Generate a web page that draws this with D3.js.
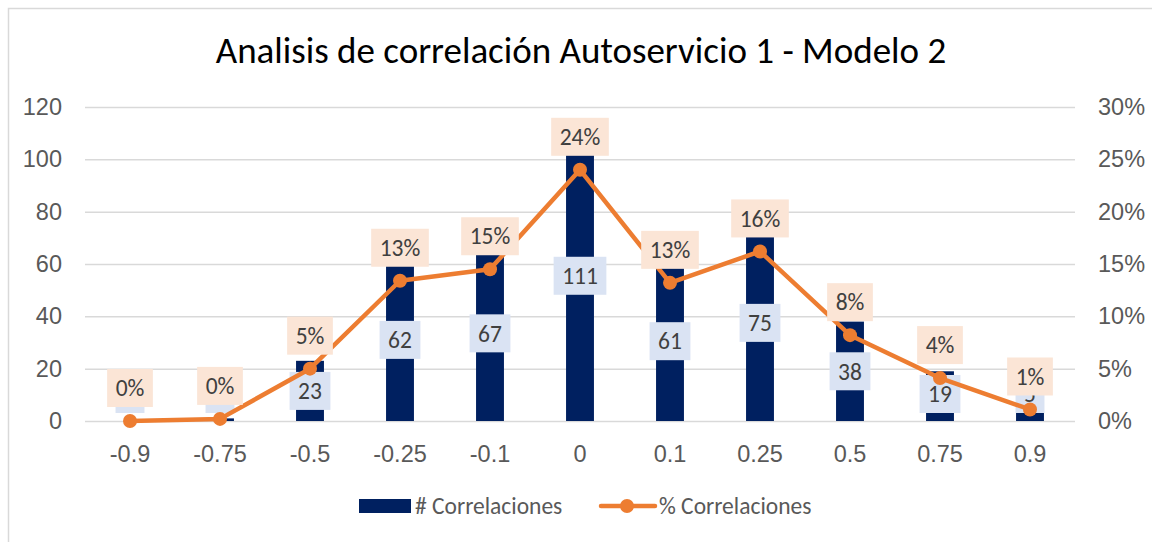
<!DOCTYPE html>
<html>
<head>
<meta charset="utf-8">
<script src="https://cdn.jsdelivr.net/npm/d3@7"></script>
<style>
  html, body {
    margin: 0;
    padding: 0;
    background: #fff;
  }
  svg {
    display: block;
    font-family: Calibri, Carlito, 'Open Sans', sans-serif;
  }
  .grid line {
    stroke: #d9d9d9;
    stroke-width: 1.5;
  }
  .grid .domain {
    display: none;
  }
  .axis text {
    fill: #595959;
    font-size: 23.5px;
  }
  .axis .domain,
  .axis line {
    display: none;
  }
</style>
</head>
<body>
<div id="chart"></div>
<script>
const categories = ['-0.9', '-0.75', '-0.5', '-0.25', '-0.1', '0', '0.1', '0.25', '0.5', '0.75', '0.9']
const counts = [0, 1, 23, 62, 67, 111, 61, 75, 38, 19, 5]
const percents = [0, 0.2, 5.0, 13.4, 14.5, 24.0, 13.2, 16.2, 8.2, 4.1, 1.1]
const countTicks = [0, 20, 40, 60, 80, 100, 120]
const percentTicks = [0, 5, 10, 15, 20, 25, 30]
const title = 'Analisis de correlación Autoservicio 1 - Modelo 2'
const seriesNames = ['# Correlaciones', '% Correlaciones']

const width = 1152
const height = 542
const margin = { top: 107, right: 77, bottom: 121, left: 85 }
const innerW = width - margin.left - margin.right
const innerH = height - margin.top - margin.bottom

const barColor = '#002060'
const lineColor = '#ed7d31'
const textColor = '#404040'
const labelSize = '23.5px'

const svg = d3
  .select('#chart')
  .append('svg')
  .attr('width', width)
  .attr('height', height)

// chart area border
svg.append('rect')
  .attr('x', 8.5)
  .attr('y', 8.5)
  .attr('width', width)
  .attr('height', height)
  .attr('fill', 'none')
  .attr('stroke', '#d9d9d9')
  .attr('stroke-width', 1.5)

svg.append('text')
  .attr('x', width / 2 + 5)
  .attr('y', 63)
  .attr('text-anchor', 'middle')
  .attr('fill', '#000')
  .style('font-size', '37px')
  .text(title)

const g = svg.append('g')
  .attr('transform', `translate(${margin.left},${margin.top})`)

const x = d3.scaleBand()
  .domain(categories)
  .range([0, innerW])
  .paddingInner(0.69)
  .paddingOuter(0.345)

const xc = d3.scaleBand().domain(categories).range([0, innerW])

const y = d3.scaleLinear().domain([0, 120]).range([innerH, 0])
const y2 = d3.scaleLinear().domain([0, 30]).range([innerH, 0])

g.append('g')
  .attr('class', 'grid')
  .call(d3.axisLeft(y).tickValues(countTicks).tickSize(-innerW).tickFormat(''))

g.append('g')
  .attr('class', 'axis')
  .call(d3.axisLeft(y).tickValues(countTicks).tickSize(0).tickPadding(23))

g.append('g')
  .attr('class', 'axis')
  .attr('transform', `translate(${innerW},0)`)
  .call(d3.axisRight(y2).tickValues(percentTicks).tickSize(0).tickPadding(23).tickFormat((d) => d + '%'))

g.append('g')
  .attr('class', 'axis')
  .attr('transform', `translate(0,${innerH})`)
  .call(d3.axisBottom(xc).tickSize(0).tickPadding(24))

// bars
g.append('g')
  .selectAll('rect')
  .data(counts)
  .enter()
  .append('rect')
  .attr('x', (d, i) => x(categories[i]))
  .attr('y', (d) => y(d))
  .attr('width', x.bandwidth())
  .attr('height', (d) => innerH - y(d))
  .attr('fill', barColor)

// boxed label: text measured, box drawn behind it
function boxLabel(el, txt, fill) {
  const rect = el.append('rect').attr('fill', fill)
  const t = el.append('text')
    .attr('text-anchor', 'middle')
    .attr('dy', '0.35em')
    .attr('fill', textColor)
    .style('font-size', labelSize)
    .text(txt)
  const w = t.node().getComputedTextLength() + 17
  rect.attr('x', -w / 2)
    .attr('y', -19)
    .attr('width', w)
    .attr('height', 38)
}

// bar labels, centred but kept off the axis
const cx = (i) => xc(categories[i]) + xc.bandwidth() / 2
g.append('g')
  .selectAll('g')
  .data(counts)
  .enter()
  .append('g')
  .attr('transform', (d, i) => {
    const cy = Math.min((y(d) + innerH) / 2, innerH - 27)
    return `translate(${cx(i)},${cy})`
  })
  .each(function (d) {
    boxLabel(d3.select(this), d, '#dae3f3')
  })

// percentage line
const line = d3.line()
  .x((d, i) => cx(i))
  .y((d) => y2(d))

g.append('path')
  .datum(percents)
  .attr('d', line)
  .attr('fill', 'none')
  .attr('stroke', lineColor)
  .attr('stroke-width', 4.5)
  .attr('stroke-linejoin', 'round')

g.append('g')
  .selectAll('circle')
  .data(percents)
  .enter()
  .append('circle')
  .attr('cx', (d, i) => cx(i))
  .attr('cy', (d) => y2(d))
  .attr('r', 7)
  .attr('fill', lineColor)

g.append('g')
  .selectAll('g')
  .data(percents)
  .enter()
  .append('g')
  .attr('transform', (d, i) => `translate(${cx(i)},${y2(d) - 33})`)
  .each(function (d) {
    boxLabel(d3.select(this), Math.round(d) + '%', '#fbe5d6')
  })

// legend
const legend = svg.append('g')
legend.append('rect')
  .attr('x', 359)
  .attr('y', 499)
  .attr('width', 52)
  .attr('height', 14)
  .attr('fill', barColor)
legend.append('text')
  .attr('x', 415)
  .attr('y', 506)
  .attr('dy', '0.35em')
  .attr('fill', '#595959')
  .style('font-size', labelSize)
  .text(seriesNames[0])

legend.append('line')
  .attr('x1', 601)
  .attr('x2', 655)
  .attr('y1', 506)
  .attr('y2', 506)
  .attr('stroke', lineColor)
  .attr('stroke-width', 4.5)
  .attr('stroke-linecap', 'round')
legend.append('circle')
  .attr('cx', 627)
  .attr('cy', 506)
  .attr('r', 7)
  .attr('fill', lineColor)
legend.append('text')
  .attr('x', 659)
  .attr('y', 506)
  .attr('dy', '0.35em')
  .attr('fill', '#595959')
  .style('font-size', labelSize)
  .text(seriesNames[1])
</script>
</body>
</html>
